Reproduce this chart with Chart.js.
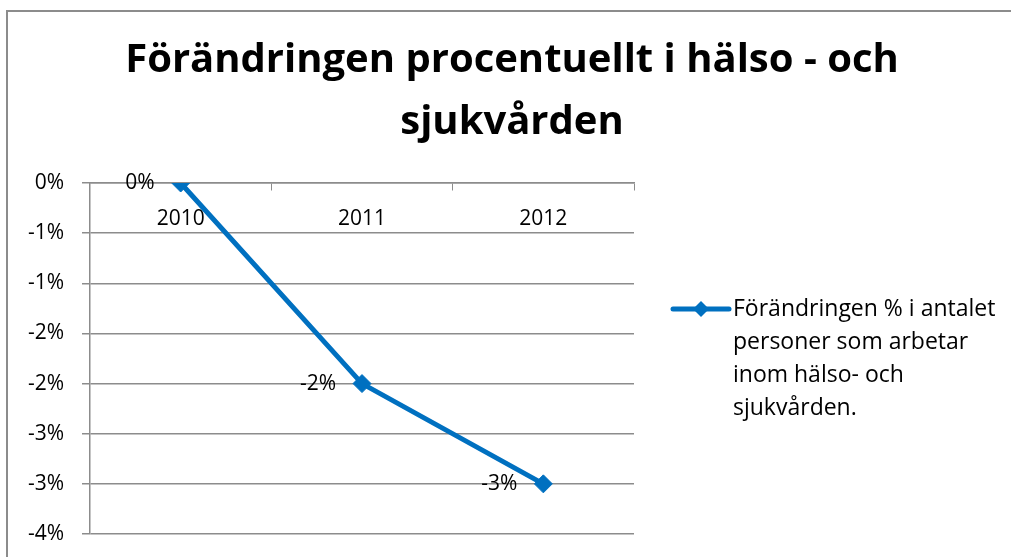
<!DOCTYPE html>
<html>
<head>
<meta charset="utf-8">
<script src="https://cdn.jsdelivr.net/npm/chart.js@4.4.1/dist/chart.umd.min.js"></script>
<style>
  html, body { margin: 0; padding: 0; background: #fff; }
</style>
</head>
<body>
<canvas id="chart" width="1011" height="557"></canvas>
<script>
// data
const titleLines = ['Förändringen procentuellt i hälso - och', 'sjukvården'];
const years = ['2010', '2011', '2012'];
const changePct = [0, -2.0, -3.0];
const pointLabels = ['0%', '-2%', '-3%'];
const yTickValues = [0, -0.5, -1, -1.5, -2, -2.5, -3, -3.5];
const yTickLabels = ['0%', '-1%', '-1%', '-2%', '-2%', '-3%', '-3%', '-4%'];
const legendLines = ['Förändringen % i antalet', 'personer som arbetar', 'inom hälso- och', 'sjukvården.'];

const blue = '#0070C0';
const gray = '#8C8C8C';
const font = 'Open Sans';

// outer frame like the Excel chart area
const framePlugin = {
  id: 'frame',
  beforeDraw(chart) {
    const ctx = chart.ctx;
    ctx.save();
    ctx.strokeStyle = gray;
    ctx.lineWidth = 2;
    ctx.strokeRect(7, 11, 1100, 700);
    ctx.restore();
  }
};

// value labels left of each point
const valueLabels = {
  id: 'valueLabels',
  afterDatasetsDraw(chart) {
    const ctx = chart.ctx;
    const meta = chart.getDatasetMeta(0);
    ctx.save();
    ctx.font = '21px "' + font + '"';
    ctx.fillStyle = '#000';
    ctx.textAlign = 'right';
    ctx.textBaseline = 'middle';
    meta.data.forEach((pt, i) => {
      ctx.fillText(pointLabels[i], pt.x - 26, pt.y);
    });
    ctx.restore();
  }
};

// legend on the right, text wrapped on four lines
const sideLegend = {
  id: 'sideLegend',
  afterDraw(chart) {
    const ctx = chart.ctx;
    const ca = chart.chartArea;
    const lh = 33;
    const y0 = (ca.top + ca.bottom) / 2 - (legendLines.length - 1) * lh / 2;
    const x0 = ca.right + 39, x1 = ca.right + 95;
    ctx.save();
    ctx.strokeStyle = blue;
    ctx.lineWidth = 5;
    ctx.lineCap = 'round';
    ctx.beginPath();
    ctx.moveTo(x0, y0);
    ctx.lineTo(x1, y0);
    ctx.stroke();
    const cx = (x0 + x1) / 2, r = 8;
    ctx.fillStyle = blue;
    ctx.beginPath();
    ctx.moveTo(cx, y0 - r);
    ctx.lineTo(cx + r, y0);
    ctx.lineTo(cx, y0 + r);
    ctx.lineTo(cx - r, y0);
    ctx.closePath();
    ctx.fill();
    ctx.font = '23px "' + font + '"';
    ctx.fillStyle = '#000';
    ctx.textAlign = 'left';
    ctx.textBaseline = 'middle';
    legendLines.forEach((line, i) => ctx.fillText(line, ca.right + 99, y0 + i * lh));
    ctx.restore();
  }
};

new Chart(document.getElementById('chart'), {
  type: 'line',
  data: {
    labels: years,
    datasets: [{
      label: legendLines.join(' '),
      data: changePct,
      borderColor: blue,
      backgroundColor: blue,
      borderWidth: 5,
      pointStyle: 'rectRot',
      pointRadius: 9,
      pointBorderWidth: 1,
      pointBorderColor: blue,
      pointBackgroundColor: blue,
      tension: 0
    }]
  },
  options: {
    responsive: false,
    animation: false,
    layout: { padding: { top: 0, left: 13, right: 0, bottom: 23 } },
    plugins: {
      legend: { display: false },
      tooltip: { enabled: false },
      title: {
        display: true,
        text: titleLines,
        color: '#000',
        font: { family: font, size: 40, weight: 'bold', lineHeight: '62px' },
        padding: { top: 30, bottom: 29 }
      }
    },
    scales: {
      x: {
        position: { y: 0 },
        offset: true,
        grid: {
          display: true,
          drawOnChartArea: false,
          drawTicks: true,
          tickLength: 7,
          offset: true,
          color: gray
        },
        border: { display: true, color: gray, width: 1.5 },
        ticks: {
          color: '#000',
          font: { family: font, size: 21 },
          padding: 16,
          maxRotation: 0
        }
      },
      y: {
        min: -3.5,
        max: 0,
        afterFit(scale) {
          scale.width = 77;
          scale.paddingTop = 0;
          scale.paddingBottom = 0;
        },
        afterBuildTicks(scale) { scale.ticks = yTickValues.map(v => ({ value: v })); },
        grid: { color: gray, lineWidth: 1.5, tickLength: 8 },
        border: { display: true, color: gray, width: 1.5 },
        ticks: {
          color: '#000',
          font: { family: font, size: 21 },
          padding: 18,
          callback: (value) => yTickLabels[yTickValues.indexOf(value)]
        }
      },
      // empty axis that only reserves the room for the legend on the right
      legendSpace: {
        type: 'linear',
        position: 'right',
        display: true,
        afterFit(scale) { scale.width = 377; },
        grid: { display: false, drawOnChartArea: false },
        border: { display: false },
        ticks: { display: false }
      }
    }
  },
  plugins: [framePlugin, valueLabels, sideLegend]
});
</script>
</body>
</html>
